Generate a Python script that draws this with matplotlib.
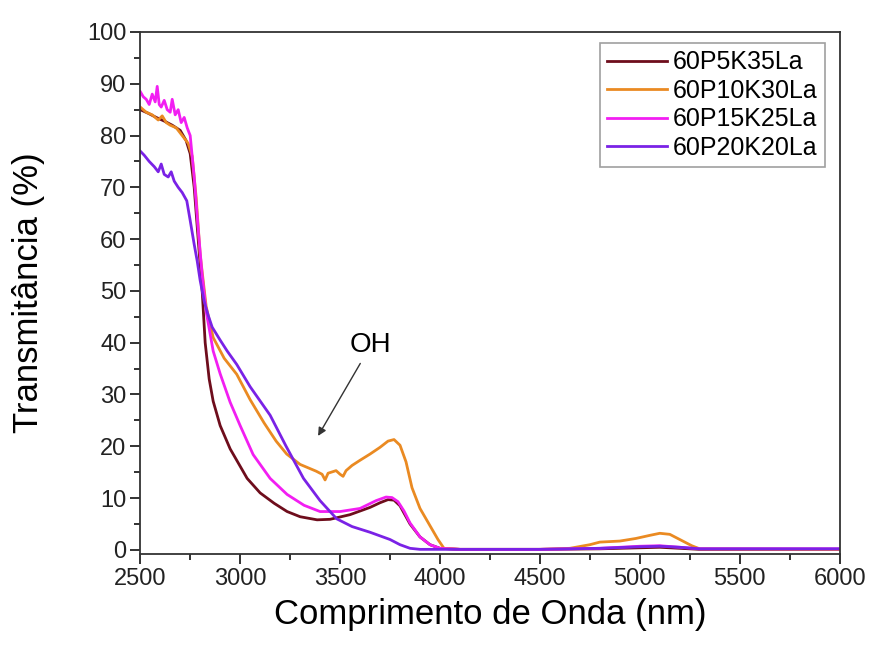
import matplotlib.pyplot as plt
from matplotlib.ticker import MultipleLocator

plt.rcParams['font.family'] = ['Liberation Sans', 'DejaVu Sans']

# wavelength (nm) / transmittance (%)
x_5k = [2500, 2540, 2580, 2620, 2660, 2700, 2730, 2750, 2770, 2790, 2810, 2825, 2845, 2865,
        2900, 2950, 3035, 3100, 3170, 3235, 3300, 3385, 3450, 3550, 3650, 3700, 3740, 3770,
        3800, 3850, 3900, 3950, 4000, 4100, 4500, 4800, 5000, 5100, 5200, 5300, 6000]
y_5k = [85, 84.3, 83.5, 82.8, 82, 81, 79, 76.5, 70, 60, 50, 40, 33, 28.7, 24, 19.5, 13.8,
        11, 9, 7.4, 6.4, 5.8, 5.9, 6.8, 8.2, 9.1, 9.7, 9.6, 8.5, 5, 2.5, 1, 0.3, 0.1, 0.1,
        0.2, 0.4, 0.5, 0.3, 0.1, 0.1]

x_10k = [2500, 2530, 2560, 2590, 2610, 2630, 2650, 2680, 2710, 2740, 2760, 2780, 2800, 2830,
         2865, 2920, 2983, 3050, 3120, 3180, 3233, 3300, 3380, 3410, 3425, 3440, 3480, 3500,
         3515, 3530, 3560, 3600, 3650, 3700, 3740, 3770, 3800, 3830, 3860, 3900, 3930, 3960,
         3990, 4020, 4100, 4500, 4650, 4750, 4800, 4900, 4980, 5050, 5100, 5150, 5200, 5260,
         5300, 6000]
y_10k = [85.5, 84.5, 84, 83, 83.8, 82.5, 82, 81.5, 80, 78.5, 76, 68, 57, 47, 41, 37, 33.9,
         29, 24.5, 21, 18.5, 16.5, 15.2, 14.6, 13.5, 14.8, 15.3, 14.6, 14.2, 15.3, 16.3, 17.3,
         18.5, 19.8, 21.0, 21.3, 20.2, 17, 12, 8, 6, 4, 2, 0.3, 0.1, 0.1, 0.3, 1, 1.5, 1.7,
         2.2, 2.8, 3.2, 3.0, 2.0, 0.8, 0.2, 0.1]

x_15k = [2500, 2515, 2530, 2545, 2560, 2575, 2585, 2595, 2605, 2620, 2635, 2650, 2660, 2675,
         2690, 2705, 2720, 2735, 2750, 2770, 2790, 2810, 2830, 2865, 2900, 2950, 3000, 3065,
         3150, 3235, 3320, 3400, 3500, 3600, 3680, 3730, 3760, 3790, 3820, 3850, 3900, 3950,
         4000, 4100, 4500, 4800, 5000, 5100, 5200, 5300, 6000]
y_15k = [88.5, 87.5, 87, 86, 88, 86.5, 89.5, 86, 85.5, 86.8, 85, 84.5, 87, 84, 85, 82.5,
         83.5, 81.5, 80, 72, 62, 53, 46, 38.4, 34, 28.5, 24, 18.4, 13.8, 10.7, 8.6, 7.4, 7.4,
         8.0, 9.5, 10.2, 10.1, 9.3, 7.5, 5.2, 2.5, 1, 0.3, 0.1, 0.1, 0.3, 0.7, 0.8, 0.5, 0.2,
         0.2]

x_20k = [2500, 2520, 2545, 2570, 2590, 2605, 2620, 2640, 2655, 2670, 2690, 2710, 2733, 2750,
         2770, 2785, 2800, 2820, 2840, 2860, 2900, 2935, 2983, 3050, 3150, 3230, 3317, 3400,
         3483, 3560, 3650, 3700, 3750, 3800, 3850, 3900, 4000, 4500, 4800, 5000, 5100, 5200,
         5300, 6000]
y_20k = [77, 76.2, 75, 74, 73, 74.5, 72.5, 72, 73, 71.2, 70, 69, 67.4, 63.6, 59, 55.8, 52,
         48, 45.3, 43, 40.5, 38.4, 35.8, 31.5, 26, 20, 13.8, 9.5, 6, 4.5, 3.4, 2.7, 2.0, 1.0,
         0.3, 0.1, 0.1, 0.1, 0.3, 0.6, 0.7, 0.5, 0.2, 0.2]

labels = ['60P5K35La', '60P10K30La', '60P15K25La', '60P20K20La']
colors = ['#6e0d1c', '#ea8a22', '#f21ef2', '#7a22e6']

fig = plt.figure(figsize=(8.71, 6.46), dpi=100)
ax = fig.add_axes([0.161, 0.1424, 0.803, 0.8081])

for xs, ys, lab, c in zip([x_5k, x_10k, x_15k, x_20k], [y_5k, y_10k, y_15k, y_20k], labels, colors):
    ax.plot(xs, ys, color=c, lw=2, label=lab)

ax.set_xlim(2500, 6000)
ax.set_ylim(-0.8, 100)
ax.xaxis.set_major_locator(MultipleLocator(500))
ax.xaxis.set_minor_locator(MultipleLocator(250))
ax.yaxis.set_major_locator(MultipleLocator(10))
ax.yaxis.set_minor_locator(MultipleLocator(5))
ax.tick_params(which='both', direction='out', labelsize=17, width=1.3, colors='#222222', pad=3)
ax.tick_params(which='major', length=7)
ax.tick_params(which='minor', length=4)
for s in ax.spines.values():
    s.set_linewidth(1.3)
    s.set_color('#333333')

ax.set_xlabel('Comprimento de Onda (nm)', fontsize=25, labelpad=6)
ax.set_ylabel('Transmitância (%)', fontsize=25, labelpad=30)

ax.annotate('OH', xy=(3390, 22), xytext=(3550, 37), fontsize=20,
            ha='left', va='bottom',
            arrowprops=dict(arrowstyle='-|>', color='#333333', lw=1, shrinkA=2, shrinkB=0,
                            mutation_scale=12))

leg = ax.legend(loc='upper right', fontsize=18, fancybox=False, edgecolor='#888888',
                handlelength=2.4, handletextpad=0.2, borderpad=0.3, labelspacing=0.18,
                borderaxespad=0, bbox_to_anchor=(0.9785, 0.979))
leg.get_frame().set_linewidth(1.2)

fig.savefig('out.png', dpi=100)
